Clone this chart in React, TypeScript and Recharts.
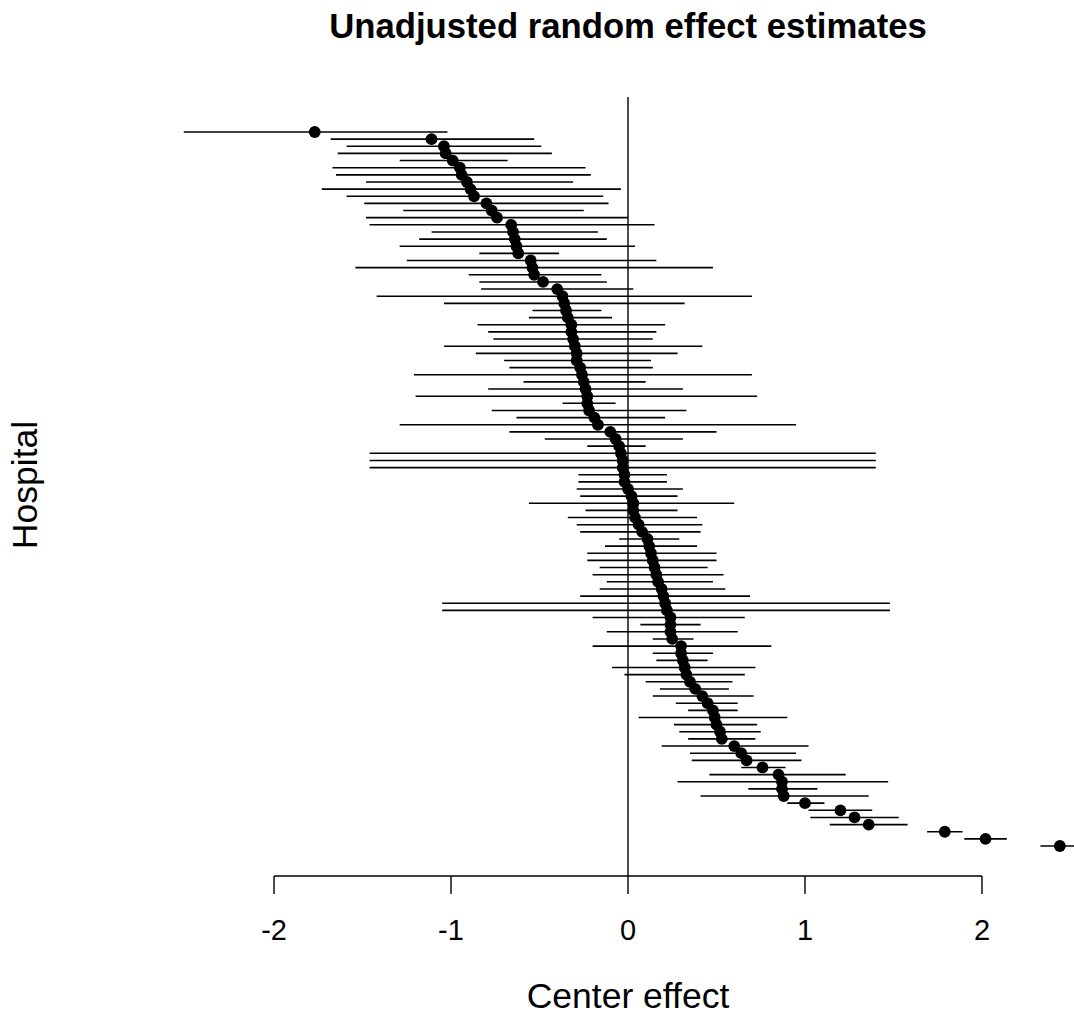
// ============================================
// Caterpillar plot - unadjusted random effects
// ============================================

import { ScatterChart, Scatter, XAxis, YAxis, ErrorBar, ReferenceLine } from 'recharts'

// ============================================
// Data (sorted top -> bottom)
// ============================================

const estimates = [
  -1.77, -1.11, -1.04, -1.03, -0.99, -0.95, -0.94, -0.91, -0.89, -0.87,
  -0.8, -0.77, -0.74, -0.66, -0.65, -0.64, -0.63, -0.62, -0.55, -0.54,
  -0.53, -0.48, -0.4, -0.37, -0.36, -0.35, -0.34, -0.32, -0.32, -0.31,
  -0.3, -0.29, -0.29, -0.27, -0.26, -0.25, -0.24, -0.23, -0.23, -0.22,
  -0.19, -0.17, -0.1, -0.07, -0.05, -0.04, -0.03, -0.03, -0.02, -0.02,
  0.0, 0.02, 0.03, 0.03, 0.04, 0.06, 0.08, 0.11, 0.12, 0.13,
  0.14, 0.15, 0.16, 0.17, 0.19, 0.2, 0.21, 0.22, 0.24, 0.24,
  0.24, 0.25, 0.3, 0.3, 0.31, 0.32, 0.33, 0.35, 0.38, 0.42,
  0.45, 0.48, 0.49, 0.5, 0.52, 0.53, 0.6, 0.64, 0.67, 0.76,
  0.85, 0.87, 0.87, 0.88, 1.0, 1.2, 1.28, 1.36, 1.79, 2.02,
  2.44,
]

const lowerBounds = [
  -2.51, -1.68, -1.59, -1.64, -1.29, -1.67, -1.65, -1.48, -1.73, -1.59,
  -1.49, -1.27, -1.48, -1.46, -1.11, -1.18, -1.29, -0.84, -1.25, -1.54,
  -0.9, -0.84, -0.83, -1.42, -1.04, -0.54, -0.56, -0.85, -0.79, -0.76,
  -1.04, -0.86, -0.7, -0.67, -1.21, -0.59, -0.79, -1.2, -0.37, -0.77,
  -0.63, -1.29, -0.67, -0.47, -0.23, -1.46, -1.46, -1.46, -0.28, -0.28,
  -0.29, -0.27, -0.56, -0.24, -0.34, -0.29, -0.27, -0.05, -0.13, -0.23,
  -0.23, -0.16, -0.2, -0.12, -0.16, -0.27, -1.05, -1.05, -0.2, 0.07,
  -0.12, 0.14, -0.2, 0.14, 0.16, -0.09, -0.02, 0.1, 0.18, 0.14,
  0.27, 0.34, 0.06, 0.26, 0.29, 0.34, 0.19, 0.35, 0.36, 0.64,
  0.46, 0.28, 0.68, 0.41, 0.9, 1.02, 1.03, 1.14, 1.69, 1.9,
  2.33,
]

const upperBounds = [
  -1.02, -0.53, -0.49, -0.43, -0.68, -0.24, -0.21, -0.31, -0.04, -0.14,
  -0.11, -0.25, 0.0, 0.15, -0.17, -0.12, 0.04, -0.39, 0.16, 0.48,
  -0.15, -0.12, 0.03, 0.7, 0.32, -0.15, -0.09, 0.21, 0.16, 0.14,
  0.42, 0.28, 0.13, 0.14, 0.7, 0.1, 0.31, 0.73, -0.07, 0.33,
  0.21, 0.95, 0.5, 0.31, 0.1, 1.4, 1.4, 1.4, 0.22, 0.22,
  0.31, 0.28, 0.6, 0.28, 0.39, 0.42, 0.41, 0.29, 0.39, 0.5,
  0.5, 0.45, 0.54, 0.48, 0.55, 0.69, 1.48, 1.48, 0.66, 0.41,
  0.62, 0.37, 0.81, 0.48, 0.45, 0.72, 0.66, 0.59, 0.57, 0.71,
  0.62, 0.62, 0.9, 0.73, 0.75, 0.72, 1.02, 0.95, 0.98, 0.89,
  1.23, 1.47, 1.07, 1.36, 1.11, 1.38, 1.53, 1.58, 1.89, 2.14,
  2.57,
]

const xTicks = [-2, -1, 0, 1, 2]

const chartData = estimates.map((est, i) => ({
  row: i,
  est,
  err: [est - lowerBounds[i], upperBounds[i] - est],
}))

const FONT = '"Liberation Sans", Arial, sans-serif'
const Y_MIN = -4.9
const Y_MAX = 104.2

// ============================================
// Point shape
// ============================================

function Dot(props: { cx?: number; cy?: number }) {
  if (props.cx == null || props.cy == null) return null
  return <circle cx={props.cx} cy={props.cy} r={5.9} fill="#000" />
}

// ============================================
// App
// ============================================

export default function App() {
  return (
    <div style={{ position: 'relative', width: 1074, height: 1016, background: '#fff' }}>
      <style>{`body { margin: 0; }`}</style>
      <ScatterChart
        width={1074}
        height={1016}
        data={chartData}
        margin={{ top: 97, right: 0, left: 182, bottom: 0 }}
      >
        <XAxis
          type="number"
          dataKey="est"
          domain={[-2.52, 2.52]}
          allowDataOverflow
          ticks={xTicks}
          axisLine={false}
          tickLine={{ stroke: '#000', strokeWidth: 1.4 }}
          tickSize={18}
          tickMargin={25}
          height={140}
          tick={{ fill: '#000', fontSize: 29, fontFamily: FONT }}
          label={{
            value: 'Center effect',
            position: 'insideBottom',
            offset: 8,
            fill: '#000',
            fontSize: 35.5,
            fontFamily: FONT,
          }}
        />
        <YAxis type="number" dataKey="row" domain={[Y_MIN, Y_MAX]} reversed hide allowDataOverflow />
        <ReferenceLine x={0} stroke="#000" strokeWidth={1.4} />
        <ReferenceLine
          segment={[
            { x: -2, y: Y_MAX },
            { x: 2, y: Y_MAX },
          ]}
          stroke="#000"
          strokeWidth={1.4}
          ifOverflow="visible"
        />
        <Scatter dataKey="est" shape={<Dot />} isAnimationActive={false}>
          <ErrorBar dataKey="err" direction="x" width={0} stroke="#000" strokeWidth={1.6} />
        </Scatter>
      </ScatterChart>

      <svg
        width={1074}
        height={1016}
        style={{ position: 'absolute', left: 0, top: 0, pointerEvents: 'none' }}
      >
        <text x={628} y={38} textAnchor="middle" fontFamily={FONT} fontWeight="bold" fontSize={34.7} fill="#000">
          Unadjusted random effect estimates
        </text>
        <text
          x={37}
          y={485}
          textAnchor="middle"
          fontFamily={FONT}
          fontSize={35.5}
          fill="#000"
          transform="rotate(-90 37 485)"
        >
          Hospital
        </text>
      </svg>
    </div>
  )
}
